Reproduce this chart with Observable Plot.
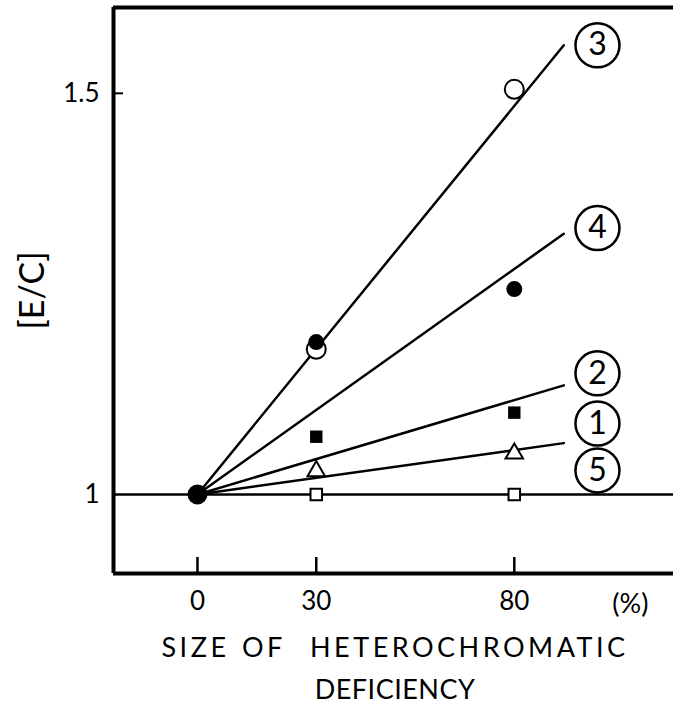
<!DOCTYPE html>
<html><head><meta charset="utf-8">
<script src="https://cdn.jsdelivr.net/npm/d3@7"></script>
<script src="https://cdn.jsdelivr.net/npm/@observablehq/plot@0.6"></script>
<style>
body{margin:0;background:#fff;}
#chart{position:relative;width:673px;height:706px;font-family:Lato,"Open Sans",sans-serif;color:#000}
#xtitle{position:absolute;left:0;width:790px;top:626px;text-align:center;font-size:27px;line-height:42px;word-spacing:2px;white-space:nowrap}
#xtitle .l1{letter-spacing:3.5px}
#xtitle .l2{letter-spacing:0.5px}
</style></head><body><div id="chart"></div>
<script>
// sizes of heterochromatic deficiency (%)
const sizes = [0, 30, 80];
// measured E/C ratios per series
const series1 = [1, 1.029, 1.051]; // open triangles
const series2 = [1, 1.072, 1.102]; // filled squares
const series3 = [1, 1.181, 1.505]; // open circles
const series4 = [1, 1.190, 1.256]; // filled circles
const series5 = [1, 1.000, 1.000]; // open squares
// fitted lines through origin (x from 0 to end)
const fitX = [0, 92.5];
const fit1 = [1, 1.064];
const fit2 = [1, 1.136];
const fit3 = [1, 1.560];
const fit4 = [1, 1.325];
// line labels
const labelNames = ["3", "4", "2", "1", "5"];
const labelY = [1.560, 1.332, 1.151, 1.0885, 1.030];
const labelX = 101;
const yTicks = [1, 1.5];
const xDomain = [-21.2, 120.2];
const yDomain = [0.9015, 1.607];

const pts = (xs, ys) => xs.map((x, i) => ({x, y: ys[i]}));
const fits = [fit1, fit2, fit3, fit4].flatMap((f, k) => pts(fitX, f).map(d => ({...d, s: k})));
const labels = labelNames.map((n, i) => ({n, x: labelX, y: labelY[i]}));

const plot = Plot.plot({
  width: 673, height: 620,
  marginLeft: 113, marginRight: 0, marginTop: 7, marginBottom: 47,
  style: {fontFamily: "Lato, 'Open Sans', sans-serif", color: "#000", background: "#fff"},
  x: {domain: xDomain, label: null},
  y: {domain: yDomain, label: null},
  marks: [
    Plot.ruleY([1], {stroke: "#000", strokeWidth: 2.5}),
    Plot.line(fits, {x: "x", y: "y", z: "s", stroke: "#000", strokeWidth: 2.5}),
    Plot.ruleX([xDomain[0]], {stroke: "#000", strokeWidth: 4}),
    Plot.ruleY([yDomain[0]], {stroke: "#000", strokeWidth: 4}),
    Plot.ruleY([yDomain[1]], {stroke: "#000", strokeWidth: 4}),
    Plot.axisY({ticks: yTicks.filter(v => v !== 1), tickSize: -10, tickPadding: 0, tickFormat: () => "", strokeWidth: 2, label: null}),
    Plot.axisY({ticks: yTicks, tickSize: 0, tickPadding: 14, fontSize: 26, tickFormat: d => String(d), label: null}),
    Plot.axisX({ticks: sizes, tickSize: -16, tickPadding: 0, tickFormat: () => "", strokeWidth: 2.5, label: null}),
    Plot.axisX({ticks: sizes, tickSize: 0, tickPadding: 18, fontSize: 26, tickFormat: d => String(d), label: null}),
    Plot.text(["(%)"], {x: 109.3, frameAnchor: "bottom", lineAnchor: "middle", dy: 31, fontSize: 27}),
    Plot.text(["[E/C]"], {frameAnchor: "left", textAnchor: "middle", lineAnchor: "middle", dx: -80, rotate: -90, fontSize: 34}),
    // data markers
    Plot.dot(pts(sizes.slice(1), series5.slice(1)), {x: "x", y: "y", symbol: "square", r: 6.5, fill: "#fff", stroke: "#000", strokeWidth: 2}),
    Plot.dot(pts(sizes.slice(1), series1.slice(1)), {x: "x", y: "y", symbol: "triangle", r: 6.5, fill: "#fff", stroke: "#000", strokeWidth: 2}),
    Plot.dot(pts(sizes.slice(1), series2.slice(1)), {x: "x", y: "y", symbol: "square", r: 7, fill: "#000"}),
    Plot.dot(pts(sizes.slice(1), series3.slice(1)), {x: "x", y: "y", r: 9.5, fill: "#fff", stroke: "#000", strokeWidth: 2}),
    Plot.dot(pts(sizes.slice(1), series4.slice(1)), {x: "x", y: "y", r: 8, fill: "#000"}),
    Plot.dot(pts(sizes.slice(0, 1), series1.slice(0, 1)), {x: "x", y: "y", r: 10, fill: "#000"}),
    // line labels
    Plot.dot(labels, {x: "x", y: "y", r: 22, fill: "#fff", stroke: "#000", strokeWidth: 2.5}),
    Plot.text(labels, {x: "x", y: "y", text: "n", fontSize: 32})
  ]
});
const chart = document.getElementById("chart");
chart.appendChild(plot);
const t = document.createElement("div");
t.id = "xtitle";
t.innerHTML = '<span class="l1">SIZE OF&nbsp; HETEROCHROMATIC</span><br><span class="l2">DEFICIENCY</span>';
chart.appendChild(t);
</script></body></html>
